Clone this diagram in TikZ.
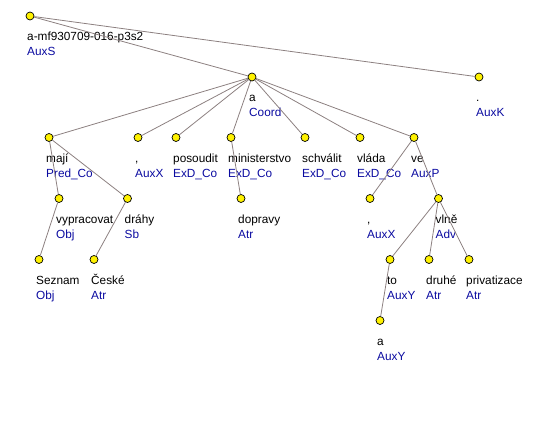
\documentclass[tikz,border=0pt]{standalone}
\usepackage{fontspec}
\setmainfont{Liberation Sans}
\usepackage{tikz}
\usetikzlibrary{positioning,calc}
\definecolor{hranacol}{RGB}{140,128,128}
\definecolor{funkcecol}{RGB}{10,10,160}
\tikzset{
  uzel/.style={circle,draw=black,fill=yellow,line width=0.7pt,inner sep=0pt,minimum size=8pt},
  hrana/.style={draw=hranacol,line width=0.8pt},
  slovo/.style={anchor=base west,inner sep=0pt,font=\fontsize{11.8}{13}\selectfont},
  funkce/.style={anchor=base west,inner sep=0pt,text=funkcecol,font=\fontsize{11.8}{13}\selectfont},
}

\begin{document}
\begin{tikzpicture}[x=1pt,y=-1pt]
  \useasboundingbox (0,0) rectangle (550,430);
  % uzly stromu
  \foreach \n/\x/\y/\w/\f in {
      koren/30/16/a-mf930709-016-p3s2/AuxS,
      koord/252/77/a/Coord,
      tecka/479/77/./AuxK,
      maji/49/137.5/mají/Pred\_Co,
      carkaA/138/137.5/{,}/AuxX,
      posoudit/176/137.5/posoudit/ExD\_Co,
      minist/231/137.5/ministerstvo/ExD\_Co,
      schvalit/305/137.5/schválit/ExD\_Co,
      vlada/360/137.5/vláda/ExD\_Co,
      ve/414/137.5/ve/AuxP,
      vyprac/59/198.5/vypracovat/Obj,
      drahy/127.5/198.5/dráhy/Sb,
      doprava/241/198.5/dopravy/Atr,
      carkaB/370/198.5/{,}/AuxX,
      vlne/438.5/198.5/vlně/Adv,
      seznam/39/259.5/Seznam/Obj,
      ceske/94/259.5/České/Atr,
      to/390/259.5/to/AuxY,
      druhe/429/259.5/druhé/Atr,
      privat/469/259.5/privatizace/Atr,
      spojka/380/320.5/a/AuxY}
  {
    \node[uzel] (\n) at (\x,\y) {};
    \node[slovo] (\n-w) at ({\x-3},{\y+25}) {\w};
    \node[funkce] (\n-f) at ({\x-3},{\y+40}) {\f};
  }
  % hrany
  \foreach \a/\b in {koren/koord,koren/tecka,
      koord/maji,koord/carkaA,koord/posoudit,koord/minist,koord/schvalit,koord/vlada,koord/ve,
      maji/vyprac,maji/drahy,vyprac/seznam,drahy/ceske,minist/doprava,
      ve/carkaB,ve/vlne,vlne/to,vlne/druhe,vlne/privat,to/spojka}
    \draw[hrana] (\a) -- (\b);
\end{tikzpicture}
\end{document}
